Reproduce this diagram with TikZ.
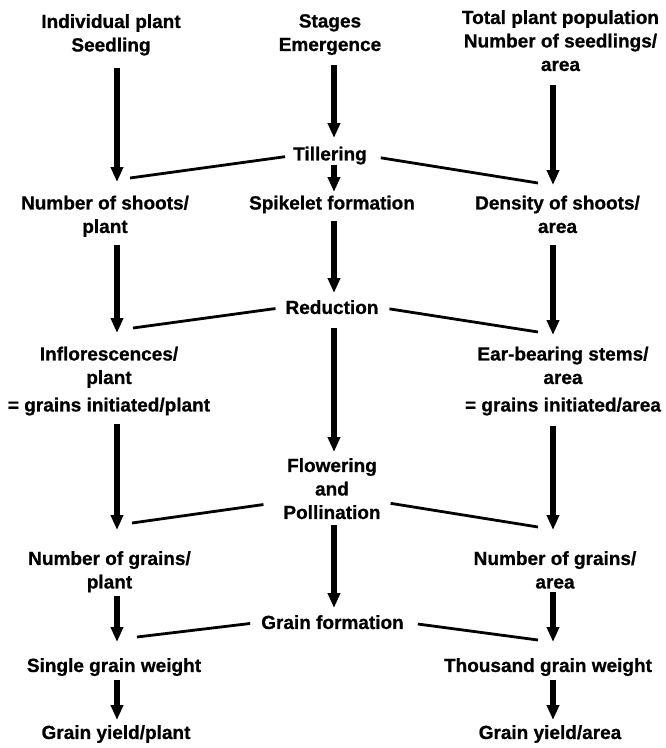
\documentclass[tikz,border=0pt]{standalone}
\usepackage{fontspec}
\setmainfont{Liberation Sans}
\newfontfamily\diagfont{Liberation Sans Bold}[FakeBold=0.8]
\usetikzlibrary{arrows.meta}

\begin{document}
\begin{tikzpicture}[x=1pt,y=-1pt,
  every node/.style={anchor=north,align=center,inner sep=0pt,
    font=\fontsize{19}{23.5}\selectfont\diagfont},
  bigarrow/.style={line width=6pt,-{Triangle[width=12pt,length=15pt]}},
  tieline/.style={line width=2.8pt}]
\useasboundingbox (0,0) rectangle (665,748);

% x of the arrow columns
\coordinate (aL) at (117,0);
\coordinate (aM) at (334,0);
\coordinate (aR) at (553,0);

% ends of the thin lines
\coordinate (tL1) at (130,178);
\coordinate (tR1) at (538,183);
\coordinate (tL2) at (133,328);
\coordinate (tR2) at (538,332);
\coordinate (tL3) at (132,523);
\coordinate (tR3) at (538,527);
\coordinate (tL4) at (137,637);
\coordinate (tR4) at (538,640);

% individual plant
\node (indiv) at (111,14) {Individual plant\\Seedling};
\node (shoots) at (105,195.5) {Number of shoots/\\plant};
\node (infl) at (109,346.5) {Inflorescences/\\plant\\[4pt]= grains initiated/plant};
\node (grainsP) at (109.5,551) {Number of grains/\\plant};
\node (single) at (114,658) {Single grain weight};
\node (yieldP) at (116,725) {Grain yield/plant};

% stages
\node (stages) at (330,14) {Stages\\Emergence};
\node (till) at (330,146.5) {Tillering};
\node (spike) at (332,195.5) {Spikelet formation};
\node (red) at (332,300) {Reduction};
\node (flow) at (332,458) {Flowering\\and\\Pollination};
\node (gform) at (332.5,615) {Grain formation};

% total plant population
\node (total) at (560.5,10) {Total plant population\\Number of seedlings/\\area};
\node (dens) at (557.5,195.5) {Density of shoots/\\area};
\node (ear) at (563,346.5) {Ear-bearing stems/\\area\\[4pt]= grains initiated/area};
\node (grainsA) at (555,551) {Number of grains/\\area};
\node (thousand) at (548,658) {Thousand grain weight};
\node (yieldA) at (550,725) {Grain yield/area};

\draw[bigarrow,shorten <=12pt,shorten >=13.5pt] (indiv.south -| aL) -- (shoots.north -| aL);
\draw[bigarrow,shorten <=8pt,shorten >=13.5pt] (shoots.south -| aL) -- (infl.north -| aL);
\draw[bigarrow,shorten <=8pt,shorten >=21pt] (infl.south -| aL) -- (grainsP.north -| aL);
\draw[bigarrow,shorten <=3pt,shorten >=16pt] (grainsP.south -| aL) -- (single.north -| aL);
\draw[bigarrow,shorten <=4pt,shorten >=5pt] (single.south -| aL) -- (yieldP.north -| aL);

\draw[bigarrow,shorten <=10pt,shorten >=8.5pt] (stages.south -| aM) -- (till.north -| aM);
\draw[bigarrow,shorten >=3.5pt] (till.south -| aM) -- (spike.north -| aM);
\draw[bigarrow,shorten <=7pt,shorten >=7pt] (spike.south -| aM) -- (red.north -| aM);
\draw[bigarrow,shorten <=14pt,shorten >=6pt] (red.south -| aM) -- (flow.north -| aM);
\draw[bigarrow,shorten <=6pt,shorten >=7pt] (flow.south -| aM) -- (gform.north -| aM);

\draw[bigarrow,shorten <=14pt,shorten >=10.5pt] (total.south -| aR) -- (dens.north -| aR);
\draw[bigarrow,shorten <=12pt,shorten >=11.5pt] (dens.south -| aR) -- (ear.north -| aR);
\draw[bigarrow,shorten <=10pt,shorten >=21pt] (ear.south -| aR) -- (grainsA.north -| aR);
\draw[bigarrow,shorten <=3pt,shorten >=16pt] (grainsA.south -| aR) -- (thousand.north -| aR);
\draw[bigarrow,shorten <=4pt,shorten >=5pt] (thousand.south -| aR) -- (yieldA.north -| aR);

\draw[tieline,shorten <=8pt] (till.west) -- (tL1);
\draw[tieline,shorten <=14pt] (till.east) -- (tR1);
\draw[tieline,shorten <=10pt] (red.west) -- (tL2);
\draw[tieline,shorten <=11pt] (red.east) -- (tR2);
\draw[tieline,shorten <=20pt] (flow.195) -- (tL3);
\draw[tieline,shorten <=10pt] (flow.-15) -- (tR3);
\draw[tieline,shorten <=11pt] (gform.west) -- (tL4);
\draw[tieline,shorten <=14pt] (gform.east) -- (tR4);
\end{tikzpicture}
\end{document}
